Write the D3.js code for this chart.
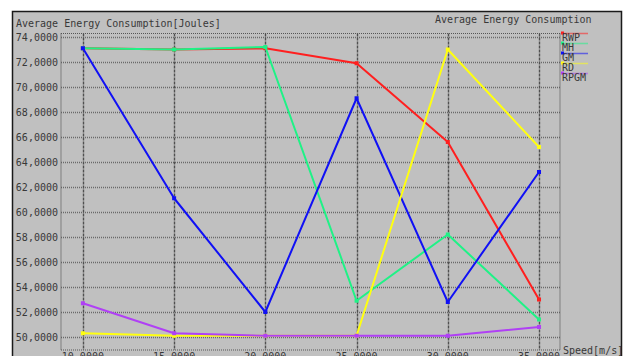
<!DOCTYPE html>
<html>
<head>
<meta charset="utf-8">
<script src="https://cdn.jsdelivr.net/npm/d3@7/dist/d3.min.js"></script>
<style>
  html, body { margin: 0; padding: 0; background: #ffffff; }
  svg { display: block; }
  text { font-family: "DejaVu Sans Mono", monospace; font-size: 10px; fill: #383838; }
</style>
</head>
<body>
<svg id="chart" width="624" height="356"></svg>
<script>
// Speeds along the x axis (m/s)
const speeds = [10, 15, 20, 25, 30, 35];

// Average energy consumption per routing protocol (Joules)
const seriesNames = ["RWP", "MH", "GM", "RD", "RPGM"];
const rwp  = [73.1, 73.0, 73.1, 71.9, 65.6, 53.0];
const mh   = [73.1, 73.0, 73.2, 52.9, 58.2, 51.4];
const gm   = [73.1, 61.1, 52.0, 69.1, 52.8, 63.2];
const rd   = [50.3, 50.1, 50.1, 50.1, 73.0, 65.2];
const rpgm = [52.7, 50.3, 50.1, 50.1, 50.1, 50.8];
const seriesColors = ["#ff1f1f", "#1ff286", "#1010f5", "#ffff10", "#b040f5"];

// Axis ticks
const yTicks = [50, 52, 54, 56, 58, 60, 62, 64, 66, 68, 70, 72, 74];
const xTicks = speeds;

const seriesValues = [rwp, mh, gm, rd, rpgm];

const svg = d3.select("#chart");
const W = 624, H = 356;
const plot = { left: 61, right: 560, top: 33.5, bottom: 350 };

const x = d3.scaleLinear().domain([8.8, 36.15]).range([plot.left, plot.right]);
const y = d3.scaleLinear().domain([48.96, 74.28]).range([plot.bottom, plot.top]);

const fmt = v => d3.format(".4f")(v).replace(".", ",");

// Panel background and frame
svg.append("rect")
  .attr("x", 12.5).attr("y", 11.5)
  .attr("width", 609).attr("height", H)
  .attr("fill", "#c0c0c0")
  .attr("stroke", "#1a1a1a").attr("stroke-width", 1.5);

// Horizontal dotted gridlines
svg.append("g").selectAll("line")
  .data(yTicks)
  .join("line")
  .attr("x1", plot.left).attr("x2", plot.right)
  .attr("y1", d => Math.round(y(d)) + 0.5).attr("y2", d => Math.round(y(d)) + 0.5)
  .attr("stroke", "#6a6a6a").attr("stroke-width", 1.3)
  .attr("stroke-dasharray", "1,1");

// Vertical dashed gridlines at each speed
svg.append("g").selectAll("line")
  .data(xTicks)
  .join("line")
  .attr("x1", d => Math.round(x(d)) + 0.5).attr("x2", d => Math.round(x(d)) + 0.5)
  .attr("y1", plot.top).attr("y2", plot.bottom)
  .attr("stroke", "#505050").attr("stroke-width", 1.4)
  .attr("stroke-dasharray", "3,1");

// Dotted plot boundary
const border = svg.append("g")
  .attr("fill", "none").attr("stroke", "#555555")
  .attr("stroke-width", 1.2).attr("stroke-dasharray", "1,1");
border.append("line").attr("x1", plot.left).attr("x2", plot.right).attr("y1", plot.top).attr("y2", plot.top);
border.append("line").attr("x1", plot.left).attr("x2", plot.right).attr("y1", plot.bottom).attr("y2", plot.bottom);
border.append("line").attr("x1", plot.left).attr("x2", plot.left).attr("y1", plot.top).attr("y2", plot.bottom);
border.append("line").attr("x1", plot.right).attr("x2", plot.right).attr("y1", plot.top).attr("y2", plot.bottom);

// Y tick labels
svg.append("g").selectAll("text")
  .data(yTicks)
  .join("text")
  .attr("x", 58).attr("y", d => y(d) + 3.8)
  .attr("text-anchor", "end")
  .text(d => fmt(d));

// X tick labels (partly below the panel edge)
svg.append("g").selectAll("text")
  .data(xTicks)
  .join("text")
  .attr("x", d => x(d)).attr("y", 360)
  .attr("text-anchor", "middle")
  .text(d => fmt(d));

// Titles
svg.append("text").attr("x", 16).attr("y", 27).text("Average Energy Consumption[Joules]");
svg.append("text").attr("x", 435).attr("y", 22.5).text("Average Energy Consumption");
svg.append("text").attr("x", 563).attr("y", 354).text("Speed[m/s]");

// Series lines and point markers
const line = d3.line().x((d, i) => x(speeds[i])).y(d => y(d));
seriesValues.forEach((vals, s) => {
  const g = svg.append("g");
  g.append("path")
    .datum(vals)
    .attr("d", line)
    .attr("fill", "none")
    .attr("stroke", seriesColors[s])
    .attr("stroke-width", 2)
    .attr("stroke-linejoin", "round");
  g.selectAll("rect")
    .data(vals)
    .join("rect")
    .attr("x", (d, i) => x(speeds[i]) - 2).attr("y", d => y(d) - 2)
    .attr("width", 4).attr("height", 4)
    .attr("fill", seriesColors[s]);
});

// Legend
const legend = svg.append("g").selectAll("g")
  .data(seriesNames)
  .join("g")
  .attr("transform", (d, i) => `translate(562, ${33.5 + i * 10})`);
legend.append("line")
  .attr("x1", 0).attr("x2", 26).attr("y1", 0).attr("y2", 0)
  .attr("stroke", (d, i) => seriesColors[i])
  .attr("stroke-opacity", 0.55)
  .attr("stroke-width", 1.5);
legend.append("rect")
  .attr("x", -1).attr("y", -2).attr("width", 3).attr("height", 3)
  .attr("fill", (d, i) => seriesColors[i]);
legend.append("text")
  .attr("x", 0).attr("y", 7)
  .text(d => d);
</script>
</body>
</html>
